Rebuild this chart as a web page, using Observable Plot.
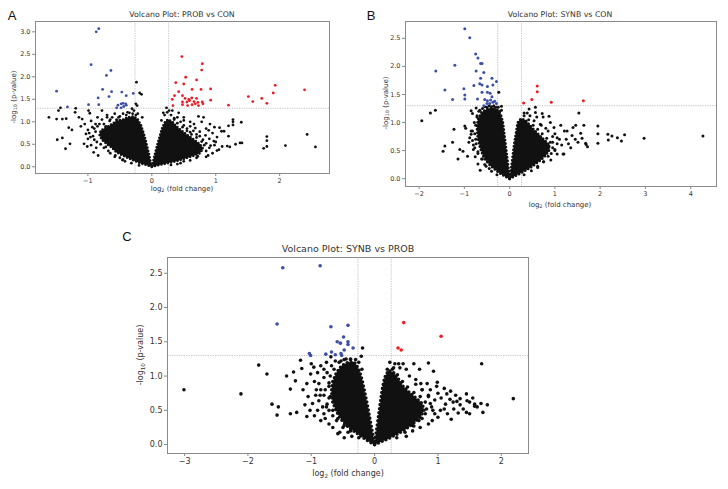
<!DOCTYPE html>
<html>
<head>
<meta charset="utf-8">
<script src="https://cdn.jsdelivr.net/npm/d3@7"></script>
<script src="https://cdn.jsdelivr.net/npm/@observablehq/plot@0.6"></script>
<style>
  html, body { margin: 0; padding: 0; background: #fff; }
  #root { position: relative; width: 728px; height: 489px; overflow: hidden; font-family: "DejaVu Sans", sans-serif; color: #333; }
  .abs { position: absolute; white-space: nowrap; line-height: 1; }
  .letter { font-family: "Liberation Sans", Arial, sans-serif; color: #111; }
  sub { font-size: 70%; vertical-align: baseline; position: relative; top: 0.3em; }
  svg { overflow: visible; }
</style>
</head>
<body>
<div id="root"></div>
<script>
// ---------- thresholds ----------
const vThresh = [-0.263, 0.263];
const hThresh = [1.301];

// ---------- Panel A: PROB vs CON ----------
const aXTicks = [-1, 0, 1, 2];
const aYTicks = [0, 0.5, 1, 1.5, 2, 2.5, 3];
const aBlue = [[-0.83,3.07],[-0.87,3.0],[-0.95,2.27],[-0.64,2.14],[-0.71,2.03],[-1.49,1.68],[-0.77,1.72],[-0.63,1.67],[-0.47,1.66],[-0.29,1.63],[-0.84,1.53],[-0.67,1.56],[-0.40,1.58],[-0.99,1.38],[-0.83,1.38],[-1.32,1.33],[-0.53,1.37],[-0.48,1.40],[-0.45,1.41],[-0.41,1.40],[-0.55,1.31],[-0.48,1.31],[-0.44,1.34],[-0.40,1.37]];
const aRed = [[0.47,2.45],[0.79,2.29],[0.78,2.15],[0.53,1.99],[0.70,1.93],[0.375,1.87],[0.50,1.84],[1.93,1.81],[1.90,1.64],[2.39,1.71],[0.42,1.67],[0.63,1.72],[0.77,1.72],[0.92,1.73],[1.51,1.56],[1.58,1.45],[1.72,1.52],[1.80,1.41],[1.20,1.37],[0.92,1.48],[0.355,1.58],[0.32,1.50],[0.33,1.36],[0.48,1.58],[0.52,1.52],[0.58,1.50],[0.625,1.53],[0.70,1.52],[0.66,1.45],[0.72,1.43],[0.79,1.44],[0.80,1.40],[0.48,1.44],[0.48,1.38],[0.55,1.44],[0.59,1.47],[0.63,1.38],[0.68,1.40],[0.73,1.36],[0.56,1.36]];
const aBlack = [[-1.61,1.10],[-1.49,1.06],[-1.40,1.06],[-1.34,1.07],[-1.48,0.60],[-1.40,0.64],[-1.35,0.40],[-1.28,0.51],[-1.46,1.25],[-1.43,1.31],[-1.30,0.87],[-1.25,0.82],[-1.19,1.30],[-1.20,1.21],[-1.14,1.10],[-1.09,1.06],[-1.06,0.51],[-1.01,0.45],[-0.84,0.25],[-0.99,1.25],[-0.97,1.19],[-1.11,0.90],[-1.03,0.73],[-0.96,0.66],[-0.88,0.95],[-0.78,1.25],[-0.70,1.10],[-0.91,0.32],[-0.72,0.44],[-0.57,0.25],[-0.46,0.15],[-0.24,1.88],[-0.19,1.64],[-0.16,1.61],[-0.25,1.40],[-0.31,1.29],[-0.23,1.36],[-0.38,1.21],[-0.15,1.10],
  [-0.95,1.02],[-0.90,0.85],[-0.85,1.10],[-0.82,0.95],[-0.80,0.78],[-0.78,1.05],[-0.75,0.65],[-0.72,0.90],[-0.70,1.15],[-0.68,0.55],[-0.66,1.02],[-0.62,1.10],[-0.58,1.18],[-0.55,1.05],[-0.50,1.12],[-0.45,1.18],[-0.40,1.08],[-0.35,1.20],[-0.28,1.25],[-0.22,1.18],[-0.60,0.45],[-0.55,0.35],[-0.80,0.50],[-0.90,0.60],[-0.98,0.75],[-1.05,0.95],[-0.87,0.42],[-0.65,0.30],[-0.50,0.20],[-0.42,0.12],
  [-0.88,0.78],[-0.92,0.68],[-0.86,0.55],[-0.75,0.42],[-0.68,0.35],[-0.58,0.22],[-0.45,0.16],[-0.32,0.08],[-0.20,0.03],[-0.85,0.90],[-0.75,0.95],[-0.65,1.05],[-0.52,1.10],[-0.40,1.15],[-0.30,1.18],[-0.25,1.15],[-0.93,0.88],[-1.00,0.82],[-1.00,0.62],[-0.95,0.48],
  [0.23,1.31],[0.24,1.21],[0.15,1.03],[0.32,1.25],[0.40,1.10],[0.50,1.03],[0.73,1.12],[0.81,1.10],[0.66,0.95],[0.91,0.95],[0.89,0.81],[0.98,0.88],[1.06,0.87],[1.20,0.91],[1.27,1.05],[1.27,1.00],[1.40,0.99],[1.27,0.93],[1.09,0.79],[1.13,0.79],[1.02,0.66],[1.20,0.68],[0.97,0.57],[1.18,0.46],[1.22,0.44],[1.31,0.50],[1.38,0.53],[1.41,0.53],[1.80,0.67],[1.80,0.58],[1.75,0.41],[1.80,0.45],[2.09,0.47],[2.43,0.72],[2.56,0.44],[0.92,0.47],[0.76,0.44],[0.84,0.70],[0.60,0.77],[1.02,0.36],
  [0.30,1.15],[0.35,1.08],[0.45,1.00],[0.50,0.92],[0.55,0.85],[0.60,0.90],[0.65,0.80],[0.70,0.72],[0.75,0.68],[0.80,0.60],[0.85,0.52],[0.90,0.42],[0.95,0.30],[0.88,0.25],[0.70,0.20],[0.50,0.12],[0.40,0.06],[0.60,1.00],[0.50,1.10],[0.42,1.20],[0.20,1.15],[0.27,1.25],[0.18,1.20],[1.00,0.55],[1.10,0.45],[0.95,0.75],[0.85,0.85],[0.78,1.00],
  [0.85,0.35],[0.82,0.48],[0.78,0.56],[0.70,0.65],[0.62,0.72],[0.55,0.80],[0.48,0.88],[0.40,0.97],[0.35,1.05],[0.85,0.22],[0.72,0.23],[0.60,0.14],[0.45,0.08],[0.30,0.04],[0.90,0.62],[0.98,0.48],[1.05,0.38],[0.68,0.86],[0.75,0.78]];
const aCoreLeft = [[0,0],[-0.08,0.04],[-0.18,0.08],[-0.28,0.14],[-0.38,0.2],[-0.48,0.27],[-0.56,0.33],[-0.62,0.42],[-0.7,0.5],[-0.78,0.6],[-0.82,0.72],[-0.78,0.82],[-0.7,0.88],[-0.62,0.95],[-0.55,1.02],[-0.45,1.05],[-0.36,1.1],[-0.28,1.12],[-0.22,1.05],[-0.17,0.92],[-0.13,0.75],[-0.1,0.6],[-0.07,0.42],[-0.04,0.25],[-0.02,0.1]];
const aCoreRight = [[0,0],[0.08,0.03],[0.18,0.06],[0.3,0.1],[0.42,0.14],[0.55,0.2],[0.66,0.25],[0.75,0.3],[0.8,0.4],[0.75,0.5],[0.68,0.58],[0.6,0.66],[0.52,0.74],[0.45,0.82],[0.38,0.9],[0.32,1.0],[0.25,1.05],[0.2,0.98],[0.16,0.85],[0.13,0.7],[0.1,0.55],[0.07,0.4],[0.04,0.22],[0.02,0.1]];

// ---------- Panel B: SYNB vs CON ----------
const bXTicks = [-2, -1, 0, 1, 2, 3, 4];
const bYTicks = [0, 0.5, 1, 1.5, 2, 2.5];
const bBlue = [[-0.99,2.67],[-0.88,2.51],[-0.75,2.22],[-0.70,2.15],[-0.64,2.05],[-0.61,2.05],[-1.21,2.02],[-1.63,1.92],[-0.74,1.92],[-0.57,1.89],[-0.64,1.79],[-0.39,1.79],[-0.29,1.73],[-0.79,1.66],[-0.66,1.69],[-0.61,1.67],[-0.37,1.67],[-1.01,1.60],[-0.49,1.64],[-1.43,1.58],[-0.61,1.54],[-0.49,1.54],[-0.99,1.49],[-0.43,1.52],[-0.99,1.42],[-1.26,1.41],[-0.71,1.42],[-0.55,1.41],[-0.49,1.39],[-0.42,1.40],[-0.37,1.36],[-0.29,1.34],[-0.50,1.34],[-0.44,1.34],[-0.57,1.30],[-0.33,1.38],[-0.39,1.46]];
const bRed = [[0.31,1.35],[0.49,1.41],[0.61,1.65],[0.61,1.55],[0.92,1.36],[1.63,1.39]];
const bBlack = [[0.32,1.17],[0.39,1.17],[0.43,1.24],[0.57,1.27],[0.57,1.18],[0.72,1.16],[0.87,1.11],[0.74,1.10],[1.53,1.17],[1.46,0.95],[1.64,0.95],[1.95,0.94],[1.95,0.80],[1.95,0.63],[2.17,0.79],[2.26,0.76],[2.38,0.73],[2.18,0.69],[2.47,0.67],[2.54,0.78],[2.97,0.72],[4.27,0.76],[1.57,0.81],[1.68,0.63],[1.72,0.57],[1.38,0.77],[1.51,0.65],[1.35,0.55],[1.20,0.44],[1.13,0.95],[0.98,0.91],[1.27,0.85],[1.05,0.73],[0.91,0.33],[1.05,0.44],[0.87,0.58],[0.68,0.97],[0.54,1.03],[1.40,0.91],[1.21,0.85],[1.69,0.61],[1.18,0.44],
  [1.0,0.8],[1.1,0.7],[1.15,0.6],[0.95,0.65],[1.25,0.7],[1.3,0.62],[0.8,0.9],[0.9,1.0],[0.6,1.1],[0.45,1.12],[1.0,0.52],[0.85,0.4],[0.75,0.3],[0.62,0.2],[1.45,0.7],[1.6,0.72],
  [0.92,0.45],[0.95,0.55],[0.9,0.65],[0.82,0.72],[0.72,0.8],[0.62,0.88],[0.52,0.95],[0.42,1.05],[0.32,1.12],[0.75,0.3],[0.62,0.22],[0.48,0.14],[0.32,0.07],[1.0,0.5],[1.05,0.62],[0.95,0.75],[0.85,0.85],[0.7,0.95],
  [-1.94,1.03],[-1.75,1.17],[-1.64,1.22],[-1.47,0.49],[-1.43,0.58],[-1.26,0.65],[-1.23,0.88],[-1.14,0.35],[-1.10,0.52],[-1.03,0.49],[-0.99,0.94],[-0.97,0.90],[-0.93,0.40],[-0.85,0.79],[-0.82,0.85],[-0.88,0.73],[-0.77,0.55],[-0.76,0.39],[-0.70,0.26],[-0.85,1.21],[-0.82,1.16],[-0.74,1.26],[-0.24,1.54],[-0.18,1.29],
  [-0.78,1.0],[-0.75,0.7],[-0.72,1.1],[-0.68,1.2],[-0.6,1.25],[-0.5,1.27],[-0.4,1.28],[-0.3,1.27],[-0.22,1.2],[-0.2,1.05],[-0.8,0.6],[-0.7,0.45],[-0.6,0.35],[-0.55,0.25],[-0.45,0.18],[-0.9,0.65],[-0.65,0.15],
  [-0.75,0.95],[-0.77,0.8],[-0.74,0.62],[-0.7,0.48],[-0.62,0.35],[-0.52,0.22],[-0.4,0.13],[-0.28,0.07],[-0.72,1.12],[-0.66,1.22],[-0.55,1.28],[-0.45,1.3],[-0.35,1.3],[-0.25,1.27],[-0.18,1.22],[-0.85,0.85],[-0.82,0.68],[-0.8,0.52]];
const bCoreLeft = [[0,0],[-0.1,0.04],[-0.22,0.1],[-0.35,0.18],[-0.48,0.28],[-0.58,0.4],[-0.65,0.55],[-0.7,0.72],[-0.72,0.9],[-0.7,1.05],[-0.62,1.18],[-0.5,1.24],[-0.38,1.26],[-0.28,1.23],[-0.2,1.15],[-0.15,1.0],[-0.12,0.8],[-0.09,0.6],[-0.06,0.4],[-0.03,0.2]];
const bCoreRight = [[0,0],[0.12,0.05],[0.25,0.1],[0.4,0.17],[0.55,0.25],[0.68,0.33],[0.8,0.42],[0.88,0.52],[0.85,0.62],[0.75,0.7],[0.65,0.78],[0.55,0.86],[0.45,0.95],[0.35,1.04],[0.25,1.07],[0.18,1.0],[0.14,0.8],[0.1,0.6],[0.07,0.4],[0.04,0.2]];

// ---------- Panel C: SYNB vs PROB ----------
const cXTicks = [-3, -2, -1, 0, 1, 2];
const cYTicks = [0, 0.5, 1, 1.5, 2, 2.5];
const cBlue = [[-1.45,2.58],[-0.86,2.61],[-1.54,1.76],[-0.69,1.72],[-0.42,1.74],[-0.49,1.57],[-0.59,1.50],[-0.54,1.48],[-0.42,1.50],[-0.42,1.46],[-0.48,1.38],[-0.34,1.41],[-0.68,1.35],[-0.77,1.32],[-0.62,1.31],[-0.53,1.33],[-0.52,1.30],[-1.03,1.33],[-1.01,1.30]];
const cRed = [[0.46,1.78],[1.05,1.58],[0.37,1.41],[0.42,1.38]];
const cBlack = [[1.69,1.18],[2.19,0.67],[0.62,1.18],[0.85,1.19],[0.93,1.07],[0.71,1.10],[0.24,1.20],[0.32,1.18],[0.38,1.18],[0.45,1.18],[1.45,0.74],[1.46,0.64],[1.58,0.59],[1.58,0.56],[1.78,0.58],[1.71,0.47],[1.35,0.67],[1.30,0.63],[1.45,0.47],[1.32,0.46],[1.21,0.37],[0.99,0.91],[0.98,0.85],[0.83,0.89],[0.73,0.89],[1.12,0.59],[1.04,0.50],[0.91,0.35],[0.72,0.25],[1.14,0.74],[1.19,0.66],[1.24,0.62],
  [0.55,1.0],[0.65,0.95],[0.75,0.8],[0.85,0.7],[0.95,0.65],[0.9,0.55],[0.8,0.45],[0.7,0.35],[0.6,0.28],[1.0,0.75],[1.05,0.68],[0.5,1.1],[0.4,1.12],[0.3,1.12],[0.2,1.1],[0.88,0.8],[0.6,0.2],[0.5,0.12],
  [0.82,0.52],[0.8,0.62],[0.72,0.7],[0.62,0.76],[0.52,0.84],[0.44,0.92],[0.36,1.02],[0.28,1.1],[0.75,0.38],[0.62,0.27],[0.48,0.18],[0.35,0.1],[0.88,0.6],[0.92,0.5],[0.85,0.72],[0.75,0.8],[0.65,0.88],
  [1.1,0.82],[1.2,0.78],[1.28,0.72],[1.35,0.58],[1.4,0.52],[1.5,0.62],[1.55,0.68],[1.62,0.55],[1.1,0.52],[0.95,0.45],[0.85,0.3],[1.0,0.4],[1.15,0.45],[1.25,0.52],[1.68,0.6],[1.5,0.45],
  [-3.01,0.80],[-2.11,0.74],[-1.83,1.16],[-1.70,1.03],[-1.62,0.59],[-1.54,0.43],[-1.52,0.55],[-1.39,1.00],[-1.33,0.45],[-1.33,0.81],[-1.23,0.47],[-1.28,1.06],[-1.25,0.93],[-1.15,1.11],[-1.17,1.23],[-1.07,0.41],[-1.02,0.50],[-1.13,0.80],[-1.07,0.89],[-1.01,1.03],[-0.96,1.13],[-0.93,0.72],[-0.88,0.64],[-0.85,0.35],[-0.80,0.45],[-0.75,0.59],[-0.58,0.16],[-0.36,0.12],[-0.88,0.89],[-0.80,0.98],[-0.19,1.41],[-0.21,1.29],[-0.69,1.28],[-0.53,1.22],[-0.33,1.18],
  [-0.75,1.05],[-0.72,0.9],[-0.7,0.7],[-0.68,1.15],[-0.62,1.22],[-0.45,1.25],[-0.38,1.25],[-0.25,1.2],[-0.2,1.1],[-0.78,0.8],[-0.72,0.5],[-0.6,0.35],[-0.5,0.25],[-0.42,0.18],[-0.9,0.5],[-0.66,0.42],
  [-0.72,0.85],[-0.72,0.68],[-0.66,0.5],[-0.58,0.38],[-0.48,0.28],[-0.38,0.2],[-0.25,0.1],[-0.7,1.0],[-0.64,1.1],[-0.56,1.2],[-0.48,1.24],[-0.38,1.24],[-0.3,1.24],[-0.8,0.72],[-0.76,0.55],[-0.85,0.8],
  [-1.05,0.7],[-0.98,0.6],[-0.95,0.92],[-0.9,1.05],[-0.85,1.15],[-0.82,0.55],[-0.78,0.38],[-0.72,0.3],[-0.95,0.42],[-1.1,0.58],[-1.0,1.18],[-0.92,0.8],[-0.86,0.72],[-0.8,1.1],[-0.76,1.2],[-0.66,0.25],[-0.55,0.18],[-0.48,0.1]];
const cCoreLeft = [[0,0],[-0.08,0.04],[-0.18,0.1],[-0.3,0.18],[-0.42,0.26],[-0.52,0.36],[-0.6,0.48],[-0.66,0.62],[-0.68,0.78],[-0.66,0.92],[-0.6,1.05],[-0.52,1.15],[-0.42,1.2],[-0.32,1.2],[-0.25,1.1],[-0.2,0.95],[-0.16,0.78],[-0.12,0.6],[-0.08,0.4],[-0.04,0.2]];
const cCoreRight = [[0,0],[0.1,0.04],[0.22,0.09],[0.35,0.15],[0.48,0.22],[0.6,0.3],[0.72,0.4],[0.78,0.5],[0.75,0.6],[0.65,0.68],[0.55,0.76],[0.45,0.85],[0.38,0.95],[0.3,1.05],[0.22,1.08],[0.16,0.98],[0.12,0.8],[0.09,0.6],[0.06,0.4],[0.03,0.2]];

const INK = "#111";
const BLUE = "#3c4ea6";
const RED = "#ec1c24";

function volcano(o) {
  const px = d => d[0], py = d => d[1];
  const coreOpts = {x: px, y: py, curve: "linear-closed", fill: INK, stroke: INK,
    strokeWidth: o.r * 2, strokeDasharray: `0,${(o.r * 2 + 0.5).toFixed(2)}`, strokeLinecap: "round", strokeLinejoin: "round"};
  return Plot.plot({
    width: o.w, height: o.h,
    marginLeft: o.ml, marginRight: o.mr, marginTop: o.mt, marginBottom: o.mb,
    x: {domain: o.xd},
    y: {domain: o.yd},
    style: {fontFamily: "DejaVu Sans", fontSize: o.fs + "px", color: "#333", background: "transparent", overflow: "visible"},
    marks: [
      Plot.ruleX(vThresh, {stroke: "#bbb", strokeWidth: 0.9, strokeDasharray: "1.2,1.2"}),
      Plot.ruleY(hThresh, {stroke: "#bbb", strokeWidth: 0.9, strokeDasharray: "1.2,1.2"}),
      Plot.line(o.coreL, coreOpts),
      Plot.line(o.coreR, coreOpts),
      Plot.dot(o.black, {x: px, y: py, r: o.r, fill: INK}),
      Plot.dot(o.blue, {x: px, y: py, r: o.r, fill: BLUE}),
      Plot.dot(o.red, {x: px, y: py, r: o.r, fill: RED}),
      Plot.frame({stroke: "#8a8a8a", strokeWidth: 1}),
      Plot.axisX({ticks: o.xt, tickSize: 3, tickPadding: 2, stroke: "#8a8a8a", fill: "#333", label: null, tickFormat: d3.format("d")}),
      Plot.axisY({ticks: o.yt, tickSize: 3, tickPadding: 2, stroke: "#8a8a8a", fill: "#333", label: null, tickFormat: d3.format(".1f")})
    ]
  });
}

const root = document.getElementById("root");
function place(el, left, top) {
  el.style.position = "absolute";
  el.style.left = left + "px";
  el.style.top = top + "px";
  root.appendChild(el);
}
function text(html, cx, cy, size, cls, rotate) {
  const d = document.createElement("div");
  d.className = "abs " + (cls || "");
  d.innerHTML = html;
  d.style.fontSize = size + "px";
  d.style.left = cx + "px";
  d.style.top = cy + "px";
  d.style.transform = "translate(-50%,-50%)" + (rotate ? " rotate(-90deg)" : "");
  root.appendChild(d);
}

place(volcano({w: 364, h: 200, ml: 35, mr: 35, mt: 21, mb: 27, xd: [-1.82, 2.78], yd: [-0.15, 3.23], xt: aXTicks, yt: aYTicks, coreL: aCoreLeft, coreR: aCoreRight, black: aBlack, blue: aBlue, red: aRed, r: 1.4, fs: 6.5}), 0, 0);
place(volcano({w: 364, h: 215, ml: 41, mr: 12, mt: 21, mb: 29, xd: [-2.30, 4.57], yd: [-0.14, 2.80], xt: bXTicks, yt: bYTicks, coreL: bCoreLeft, coreR: bCoreRight, black: bBlack, blue: bBlue, red: bRed, r: 1.5, fs: 6.5}), 364, 0);
place(volcano({w: 430, h: 269, ml: 57, mr: 12, mt: 37, mb: 36, xd: [-3.27, 2.43], yd: [-0.13, 2.73], xt: cXTicks, yt: cYTicks, coreL: cCoreLeft, coreR: cCoreRight, black: cBlack, blue: cBlue, red: cRed, r: 1.8, fs: 8}), 110, 220);

// titles
text("Volcano Plot: PROB vs CON", 182, 15, 7.8);
text("Volcano Plot: SYNB vs CON", 560, 15, 7.8);
text("Volcano Plot: SYNB vs PROB", 348, 249, 9.5);
// panel letters
text("A", 12, 15, 13, "letter");
text("B", 371, 15, 13, "letter");
text("C", 127, 236, 13, "letter");
// axis labels
text("log<sub>2</sub> (fold change)", 182, 189, 7);
text("-log<sub>10</sub> (p-value)", 14, 97, 7, "", true);
text("log<sub>2</sub> (fold change)", 560, 205, 7);
text("-log<sub>10</sub> (p-value)", 386, 103, 7, "", true);
text("log<sub>2</sub> (fold change)", 348, 474, 8);
text("-log<sub>10</sub> (p-value)", 141, 355, 8, "", true);
</script>
</body>
</html>
